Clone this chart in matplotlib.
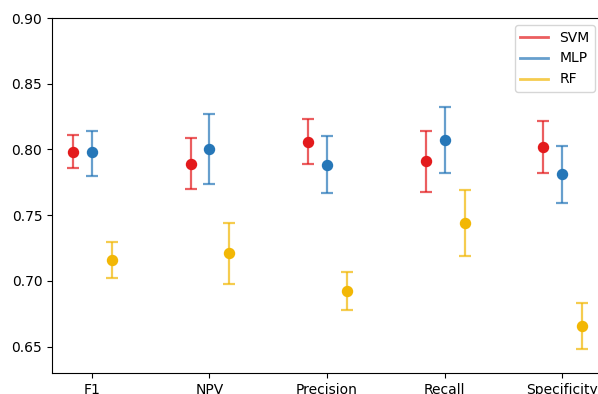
import numpy as np
import matplotlib.pyplot as plt
from matplotlib.lines import Line2D

# metrics and models
metrics = ["F1", "NPV", "Precision", "Recall", "Specificity"]
models = ["SVM", "MLP", "RF"]
colors = ["#e31a1c", "#2677b8", "#f2b705"]

# mean values
svm_mean = [0.798, 0.789, 0.806, 0.791, 0.802]
mlp_mean = [0.798, 0.800, 0.788, 0.807, 0.781]
rf_mean = [0.716, 0.721, 0.692, 0.744, 0.666]

# lower / upper bounds of the intervals
svm_lo = [0.786, 0.770, 0.789, 0.768, 0.782]
svm_hi = [0.811, 0.809, 0.823, 0.814, 0.822]
mlp_lo = [0.780, 0.774, 0.767, 0.782, 0.759]
mlp_hi = [0.814, 0.827, 0.810, 0.832, 0.803]
rf_lo = [0.702, 0.698, 0.678, 0.719, 0.648]
rf_hi = [0.730, 0.744, 0.707, 0.769, 0.683]

means = [svm_mean, mlp_mean, rf_mean]
lows = [svm_lo, mlp_lo, rf_lo]
highs = [svm_hi, mlp_hi, rf_hi]
offsets = [-0.16, 0.0, 0.17]

fig = plt.figure(figsize=(5.98, 3.94), dpi=100)
# the original figure was cropped, so the axes run a bit past the right edge
ax = fig.add_axes([52 / 598, 21 / 394, 550 / 598, 355 / 394])

x = np.arange(len(metrics))
for m, lo, hi, off, c in zip(means, lows, highs, offsets, colors):
    m = np.array(m)
    yerr = [m - np.array(lo), np.array(hi) - m]
    ax.errorbar(x + off, m, yerr=yerr, fmt="none", ecolor=c, alpha=0.7,
                elinewidth=1.6, capsize=4.3, capthick=1.6)
    ax.plot(x + off, m, "o", color=c, markersize=7.2)

ax.set_xticks(x)
ax.set_xticklabels(metrics)
ax.set_xlim(-0.34, 4.34)
ax.set_ylim(0.63, 0.90)
ax.set_yticks([0.65, 0.70, 0.75, 0.80, 0.85, 0.90])
ax.tick_params(labelsize=10)

handles = [Line2D([0], [0], color=c, alpha=0.7, lw=2) for c in colors]
ax.legend(handles, models, loc="upper right")

plt.savefig("out.png")
